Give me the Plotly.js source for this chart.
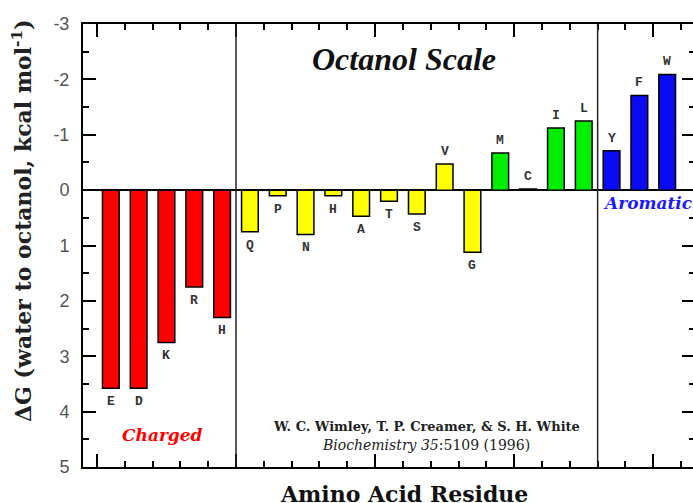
<!DOCTYPE html>
<html><head><meta charset="utf-8">
<script src="https://cdn.plot.ly/plotly-3.0.1.min.js"></script>
<style>html,body{margin:0;padding:0;overflow:hidden;background:#fff}#chart{width:700px;height:503px}</style>
</head><body><div id="chart"></div>
<script>
// Wimley-White octanol scale, ΔG (water -> octanol), kcal/mol
const chargedRes = ['E','D','K','R','H'];
const chargedVals = [3.58, 3.58, 2.75, 1.75, 2.30];
const polarRes = ['Q','P','N','H','A','T','S','V','G'];
const polarVals = [0.75, 0.10, 0.80, 0.10, 0.47, 0.20, 0.43, -0.47, 1.12];
const hydroRes = ['M','C','I','L'];
const hydroVals = [-0.67, -0.02, -1.12, -1.25];
const aromRes = ['Y','F','W'];
const aromVals = [-0.71, -1.71, -2.09];
const yTicks = [-3,-2,-1,0,1,2,3,4,5];

const groups = [
  {res: chargedRes, vals: chargedVals, color: '#ff0000'},
  {res: polarRes, vals: polarVals, color: '#ffff00'},
  {res: hydroRes, vals: hydroVals, color: '#00ee00'},
  {res: aromRes, vals: aromVals, color: '#0a0af5'}
];

const traces = [];
const annotations = [];
const shapes = [];
let offset = 0;
groups.forEach((g, gi) => {
  const xs = g.vals.map((_, i) => offset + i + 1);
  traces.push({
    type: 'bar', x: xs, y: g.vals, width: 0.6,
    marker: {color: g.color, line: {color: '#000', width: 1.5}},
    hoverinfo: 'skip', showlegend: false
  });
  g.vals.forEach((v, i) => {
    const down = v > 0;
    annotations.push({
      x: xs[i], y: v, xref: 'x', yref: 'y', text: g.res[i], showarrow: false,
      xanchor: 'center', yanchor: down ? 'top' : 'bottom', yshift: down ? -4 : 3,
      font: {family: 'Liberation Mono, Courier New, monospace', size: 13, color: '#333', weight: 'bold'}
    });
  });
  offset += g.vals.length;
  if (gi === 0 || gi === 2) {
    shapes.push({type: 'line', xref: 'x', yref: 'paper', x0: offset + 0.5, x1: offset + 0.5, y0: 0, y1: 1,
      line: {color: '#222', width: 1.5}});
  }
});

annotations.push(
  {x: 11.54, y: -2.36, xref: 'x', yref: 'y', text: '<b><i>Octanol Scale</i></b>', showarrow: false,
   xanchor: 'center', yanchor: 'middle',
   font: {family: 'Liberation Serif, Times New Roman, serif', size: 32, color: '#111'}},
  {x: 2.84, y: 4.43, xref: 'x', yref: 'y', text: '<b><i>Charged</i></b>', showarrow: false,
   xanchor: 'center', yanchor: 'middle',
   font: {family: 'DejaVu Serif, serif', size: 17, color: '#ff0000'}},
  {x: 18.62, y: 0.23, xref: 'x', yref: 'y', text: '<b><i>Aromatic</i></b>', showarrow: false,
   xanchor: 'left', yanchor: 'middle',
   font: {family: 'DejaVu Serif, serif', size: 17, color: '#1a1aff'}},
  {x: 12.33, y: 4.27, xref: 'x', yref: 'y', text: '<b>W. C. Wimley, T. P. Creamer, &amp; S. H. White</b>', showarrow: false,
   xanchor: 'center', yanchor: 'middle',
   font: {family: 'DejaVu Serif, serif', size: 13, color: '#222'}},
  {x: 12.33, y: 4.6, xref: 'x', yref: 'y', text: '<i>Biochemistry 35</i>:5109 (1996)', showarrow: false,
   xanchor: 'center', yanchor: 'middle',
   font: {family: 'DejaVu Serif, serif', size: 14, color: '#222'}},
  {x: -0.0997, y: 0.5576, xref: 'paper', yref: 'paper', textangle: -90, showarrow: false,
   xanchor: 'center', yanchor: 'middle',
   text: '<b>ΔG (water to octanol, kcal mol<sup>-1</sup>)</b>',
   font: {family: 'DejaVu Serif, serif', size: 22, color: '#222'}},
  {x: 0.5245, y: -0.061, xref: 'paper', yref: 'paper', showarrow: false,
   xanchor: 'center', yanchor: 'middle',
   text: '<b>Amino Acid Residue</b>',
   font: {family: 'DejaVu Serif, serif', size: 22, color: '#111'}}
);

const layout = {
  width: 700, height: 503,
  margin: {l: 83, r: 5, t: 24, b: 36},
  paper_bgcolor: '#fff', plot_bgcolor: '#fff',
  bargap: 0.4,
  xaxis: {
    range: [0, 22], showline: true, mirror: 'allticks', linecolor: '#000', linewidth: 2,
    ticks: 'inside', tick0: 0.5, dtick: 5, ticklen: 13, tickwidth: 2, tickcolor: '#000',
    showticklabels: false, showgrid: false, zeroline: false, fixedrange: true,
    minor: {ticks: 'inside', tick0: 0.5, dtick: 1, ticklen: 6, tickwidth: 2, tickcolor: '#000', showgrid: false}
  },
  yaxis: {
    range: [5, -3], showline: true, mirror: 'allticks', linecolor: '#000', linewidth: 2,
    tickmode: 'array', tickvals: yTicks, ticktext: yTicks.map(String),
    ticks: 'inside', ticklen: 13, tickwidth: 2, tickcolor: '#000', ticklabelstandoff: 8,
    tickfont: {family: 'Liberation Sans, Arial, sans-serif', size: 18, color: '#555'},
    showgrid: false, zeroline: true, zerolinecolor: '#000', zerolinewidth: 2, fixedrange: true,
    minor: {ticks: 'inside', dtick: 0.5, tick0: 0, ticklen: 6, tickwidth: 2, tickcolor: '#000', showgrid: false}
  },
  shapes: shapes,
  annotations: annotations
};

Plotly.newPlot('chart', traces, layout, {staticPlot: true, displayModeBar: false});
</script></body></html>
